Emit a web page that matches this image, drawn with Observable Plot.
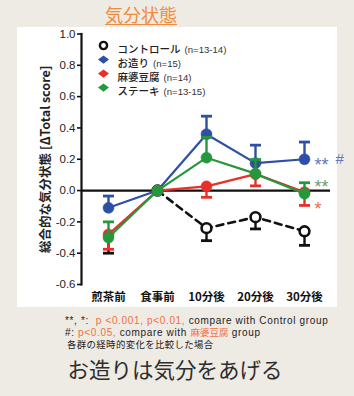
<!DOCTYPE html>
<html>
<head>
<meta charset="utf-8">
<script src="https://cdn.jsdelivr.net/npm/d3@7"></script>
<script src="https://cdn.jsdelivr.net/npm/@observablehq/plot@0.6"></script>
<style>
  html, body { margin: 0; padding: 0; background: #eeebe4; }
  #root { position: relative; width: 354px; height: 396px; overflow: hidden;
    font-family: "Liberation Sans", Arial, "Noto Sans CJK JP", sans-serif; }
  #title { position: absolute; left: 0; width: 282px; top: 3px; text-align: center;
    font-family: "Noto Sans CJK JP", sans-serif; font-size: 18px; color: #f08a3c;
    text-decoration: underline; text-underline-offset: 2px; line-height: 22px; }
  #panel { position: absolute; left: 17px; top: 27px; width: 320px; height: 280px; background: #fff; }
  #chart { position: absolute; left: 17px; top: 27px; }
  #chart svg { overflow: visible; }
  .note { position: absolute; left: 65px; font-size: 10px; letter-spacing: 0.65px; color: #222; white-space: nowrap; line-height: 10px;
    font-family: "Liberation Sans", Arial, "Noto Sans CJK JP", sans-serif; }
  .or { color: #f0703c; }
  #caption { position: absolute; left: 0; width: 350px; top: 356px; text-align: center;
    font-family: "Noto Sans CJK JP", sans-serif; font-weight: 400; font-size: 21.5px; color: #2e2e2e; line-height: 26px; }
</style>
</head>
<body>
<div id="root">
  <div id="title">気分状態</div>
  <div id="panel"></div>
  <div id="chart"></div>
  <div class="note" style="top:315.5px">**, *:&nbsp; <span class="or">p &lt;0.001, p&lt;0.01,</span> compare with Control group</div>
  <div class="note" style="top:326.5px">#: <span class="or">p&lt;0.05,</span> compare with <span class="or" style="font-family:'Noto Sans CJK JP';letter-spacing:0;font-size:9.5px">麻婆豆腐</span> group</div>
  <div class="note" style="top:338.5px;left:67px;font-size:9.4px;letter-spacing:0.4px;font-family:'Noto Sans CJK JP'">各群の経時的変化を比較した場合</div>
  <div id="caption">お造りは気分をあげる</div>
</div>
<script>
// ---- data ----
const categories = ["煎茶前", "食事前", "10分後", "20分後", "30分後"];
const seriesNames = ["コントロール", "お造り", "麻婆豆腐", "ステーキ"];
const seriesN = ["(n=13-14)", "(n=15)", "(n=14)", "(n=13-15)"];
const controlMean = [-0.30, 0, -0.24, -0.17, -0.26];
const controlSem  = [0.10, 0, 0.08, 0.075, 0.09];
const otsukuriMean = [-0.11, 0, 0.36, 0.175, 0.20];
const otsukuriSem  = [0.075, 0, 0.115, 0.115, 0.11];
const mapoMean = [-0.28, 0, 0.027, 0.105, -0.01];
const mapoSem  = [0.095, 0, 0.07, 0.075, 0.085];
const steakMean = [-0.30, 0, 0.21, 0.108, -0.02];
const steakSem  = [0.10, 0, 0.13, 0.09, 0.07];
const errDir = [-1, 1, -1, 1];          // direction of the drawn error bar per series
const yTicks = [-0.6, -0.4, -0.2, 0.0, 0.2, 0.4, 0.6, 0.8, 1.0];
const sigText = ["**", "#", "**", "*"];
const sigSeries = ["お造り", "お造り", "ステーキ", "麻婆豆腐"];
const sigY = [0.195, 0.2, 0.055, -0.09];
const yLabel = "総合的な気分状態 [ΔTotal score]";

// ---- styles ----
const colors = {"コントロール": "#111111", "お造り": "#2d4fa6", "麻婆豆腐": "#e8302a", "ステーキ": "#25973c"};
const sigColors = {"お造り": "#6476bd", "ステーキ": "#6f9c76", "麻婆豆腐": "#ee6a4c"};
const font = "'Liberation Sans', Arial, 'Noto Sans CJK JP', sans-serif";
const cjk = "'Noto Sans CJK JP', sans-serif";

const means = [controlMean, otsukuriMean, mapoMean, steakMean];
const sems = [controlSem, otsukuriSem, mapoSem, steakSem];
const rows = [];
seriesNames.forEach((s, si) => {
  categories.forEach((c, ci) => {
    const m = means[si][ci], e = sems[si][ci];
    rows.push({series: s, cat: c, y: m, end: m + errDir[si] * e, hasErr: e > 0});
  });
});
const sigRows = sigText.map((t, i) => ({text: t, series: sigSeries[i], y: sigY[i], cat: categories[4]}));

const capSymbol = {draw(ctx, size) { const h = Math.sqrt(size / Math.PI); ctx.moveTo(-h, 0); ctx.lineTo(h, 0); }};
const wideDiamond = {draw(ctx, size) { const h = Math.sqrt(size / Math.PI); ctx.moveTo(-h, 0); ctx.lineTo(0, -h * 0.75); ctx.lineTo(h, 0); ctx.lineTo(0, h * 0.75); ctx.closePath(); }};

function seriesMarks(s, si) {
  const data = rows.filter(d => d.series === s);
  const errs = data.filter(d => d.hasErr);
  const col = colors[s];
  const isCtrl = si === 0;
  return [
    Plot.line(isCtrl ? data.slice(1) : data, {x: "cat", y: "y", stroke: col, strokeWidth: isCtrl ? 2.6 : 2.2,
      strokeDasharray: isCtrl ? "7,5" : null}),
    Plot.ruleX(errs, {x: "cat", y1: "y", y2: "end", stroke: col, strokeWidth: 2.4}),
    Plot.dot(errs, {x: "cat", y: "end", symbol: capSymbol, r: 5.5, stroke: col, strokeWidth: 2.8, fill: "none"}),
    isCtrl
      ? Plot.dot(data.slice(1), {x: "cat", y: "y", r: 4.9, stroke: col, strokeWidth: 2.6, fill: "white"})
      : Plot.dot(data, {x: "cat", y: "y", r: 5.5, fill: col, stroke: col, strokeWidth: 0.5})
  ];
}

// legend width measurement
const mctx = document.createElement("canvas").getContext("2d");
mctx.font = "500 10.5px " + cjk;

const legendMarks = [];
seriesNames.forEach((s, i) => {
  const dy = 11.5 + i * 14;
  legendMarks.push(i === 0
    ? Plot.dot([s], {frameAnchor: "top-left", dx: 22, dy, r: 3.6, stroke: "#111", strokeWidth: 2.4, fill: "white"})
    : Plot.dot([s], {frameAnchor: "top-left", dx: 22, dy, r: 5.5, symbol: wideDiamond, fill: colors[s]}));
  legendMarks.push(Plot.text([s], {frameAnchor: "top-left", dx: 36, dy, text: d => d, textAnchor: "start",
    fontSize: 10.5, fontWeight: 500, fill: "#222", fontFamily: cjk}));
  const w = mctx.measureText(s).width;
  legendMarks.push(Plot.text([seriesN[i]], {frameAnchor: "top-left", dx: 36 + w + 4, dy: dy + 0.5, text: d => d,
    textAnchor: "start", fontSize: 9.6, fill: "#333", fontFamily: font}));
});

const chart = Plot.plot({
  width: 320, height: 280,
  marginLeft: 64, marginRight: 7, marginTop: 6.5, marginBottom: 23,
  style: {fontFamily: font, background: "transparent", overflow: "visible"},
  x: {type: "point", domain: categories, padding: 0.5},
  y: {domain: [-0.6, 1.0]},
  marks: [
    Plot.axisY({ticks: yTicks, tickSize: 4, tickPadding: 2, tickFormat: d => d.toFixed(1), fontSize: 11.5,
      fill: "#222", stroke: "#111", strokeWidth: 1.6, label: null}),
    Plot.axisX({tickSize: 0, tickPadding: 8, fontSize: 11.5, fontWeight: "bold", fill: "#111",
      fontFamily: cjk, label: null}),
    Plot.frame({anchor: "left", stroke: "#111", strokeWidth: 2.2}),
    Plot.ruleY([0], {stroke: "#111", strokeWidth: 2.2}),
    Plot.text([yLabel], {frameAnchor: "left", textAnchor: "middle", dx: -36, dy: 0, rotate: -90, text: d => d,
      fontSize: 12.5, fontWeight: "bold", fill: "#222", fontFamily: cjk}),
    ...seriesNames.flatMap((s, i) => seriesMarks(s, i)),
    Plot.text(sigRows.filter(d => d.text !== "#"), {x: "cat", y: "y", text: "text", dx: 10, dy: 5, textAnchor: "start",
      fontSize: 18, fill: d => sigColors[d.series]}),
    Plot.text(sigRows.filter(d => d.text === "#"), {x: "cat", y: "y", text: "text", dx: 31, dy: 0, textAnchor: "start",
      fontSize: 15, fill: d => sigColors[d.series]}),
    ...legendMarks
  ]
});
document.getElementById("chart").appendChild(chart);
</script>
</body>
</html>
